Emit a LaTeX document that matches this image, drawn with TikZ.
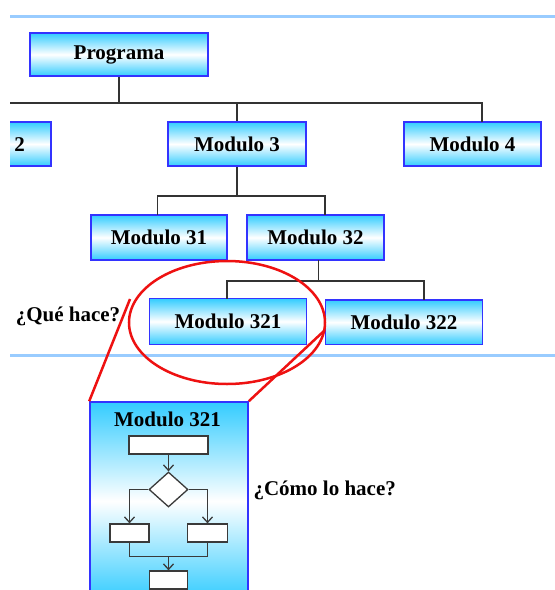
\documentclass[tikz,border=0pt]{standalone}
\usepackage{fontspec}
\setmainfont{Liberation Serif}
\usetikzlibrary{arrows.meta,shapes.geometric}

\definecolor{boxcyan}{HTML}{33CCFF}
\definecolor{boxedge}{HTML}{3333FF}
\definecolor{rulecol}{HTML}{99CCFF}
\definecolor{wire}{HTML}{333333}
\definecolor{flow}{HTML}{3A3A3A}
\definecolor{lens}{HTML}{EE1111}

\begin{document}
\begin{tikzpicture}[x=1pt,y=-1pt,
  lbl/.style={font=\fontsize{21}{25}\selectfont\bfseries, inner sep=0pt},
  modbox/.style={draw=boxedge, line width=1.6pt, top color=boxcyan,
    bottom color=boxcyan, middle color=white, inner sep=0pt,
    minimum height=44pt, font=\fontsize{21}{25}\selectfont\bfseries},
  tree/.style={draw=wire, line width=1.3pt},
  rulebar/.style={draw=rulecol, line width=3pt},
  fstep/.style={draw=flow, fill=white, line width=1.3pt, inner sep=0pt,
    minimum height=18pt},
  fline/.style={draw=flow, line width=1.3pt},
  farrow/.style={fline, -{Straight Barb[length=5.5pt,width=10pt]}},
  lensline/.style={draw=lens, line width=2.5pt}]

\useasboundingbox (0,0) rectangle (555,590);
\fill[white] (0,0) rectangle (555,590);

\begin{scope}
\clip (10,0) rectangle (555,590);

% separating rules
\draw[rulebar] (0,16) -- (560,16);
\draw[rulebar] (0,355) -- (560,355);

% module tree
\node[modbox, minimum width=178pt, minimum height=43pt] (prog) at (119,54.5) {Programa};
\node[modbox, minimum width=138pt] (m2) at (-18,144) {Modulo 2};
\node[modbox, minimum width=138pt] (m3) at (237,144) {Modulo 3};
\node[modbox, minimum width=137pt] (m4) at (472.5,144) {Modulo 4};
\node[modbox, minimum width=136pt, minimum height=45pt] (m31) at (159,237.5) {Modulo 31};
\node[modbox, minimum width=137pt, minimum height=45pt] (m32) at (315.5,237.5) {Modulo 32};
\node[modbox, minimum width=157pt, minimum height=46pt] (m321) at (228,321.5) {Modulo 321};
\node[modbox, minimum width=157pt, minimum height=44.5pt] (m322) at (404,322.2) {Modulo 322};

% connectors
\coordinate (busA) at (0,103);
\coordinate (m4in) at (482,122);
\draw[tree] (prog.south) -- (prog.south |- busA);
\draw[tree] (m2.north) |- (m4in |- busA) -- (m4in);
\draw[tree] (m3.north) -- (m3.north |- busA);

\coordinate (busB) at (0,196);
\coordinate (m31in) at (157.5,215);
\coordinate (m32in) at (325,215);
\draw[tree] (m3.south) -- (m3.south |- busB);
\draw[tree] (m31in) |- (m32in |- busB) -- (m32in);

\coordinate (busC) at (0,281);
\coordinate (m32out) at (318.6,260);
\coordinate (m321in) at (227,298.5);
\coordinate (m322in) at (424,300);
\draw[tree] (m32out) -- (m32out |- busC);
\draw[tree] (m321in) |- (m322in |- busC) -- (m322in);

% questions
\node[lbl, anchor=base] (what) at (68,321) {¿Qué hace?};
\node[lbl, anchor=base] (how) at (324.7,495) {¿Cómo lo hace?};

% detail of module 321
\node[modbox, minimum width=158pt, minimum height=198pt] (big) at (169,501) {};
\node[lbl, anchor=base] (bigtitle) at (167.5,426.5) {Modulo 321};

\node[fstep, minimum width=79pt] (f1) at (168.5,445) {};
\node[draw=flow, fill=white, line width=1.3pt, shape=diamond, inner sep=0pt,
  minimum width=39pt, minimum height=35pt] (dec) at (168.5,489.5) {};
\node[fstep, minimum width=39pt] (fl) at (129.5,533) {};
\node[fstep, minimum width=40pt] (fr) at (207.5,533) {};
\node[fstep, minimum width=38.5pt] (fb) at (168.5,580) {};
\coordinate (join) at (168.5,556.7);

\draw[farrow] (f1.south) -- (dec.north);
\draw[farrow] (dec.west) -| (fl.north);
\draw[farrow] (dec.east) -| (fr.north);
\draw[fline] (fl.south) |- (join) -| (fr.south);
\draw[farrow] (join) -- (fb.north);

% magnifying lens
\draw[lensline] (227,322.5) ellipse [x radius=98, y radius=61.5];
\coordinate (lensL) at (130,299);
\coordinate (lensR) at (325,330);
\draw[lensline] (lensL) -- (big.north west);
\draw[lensline] (lensR) -- (big.north east);
\end{scope}
\end{tikzpicture}
\end{document}
